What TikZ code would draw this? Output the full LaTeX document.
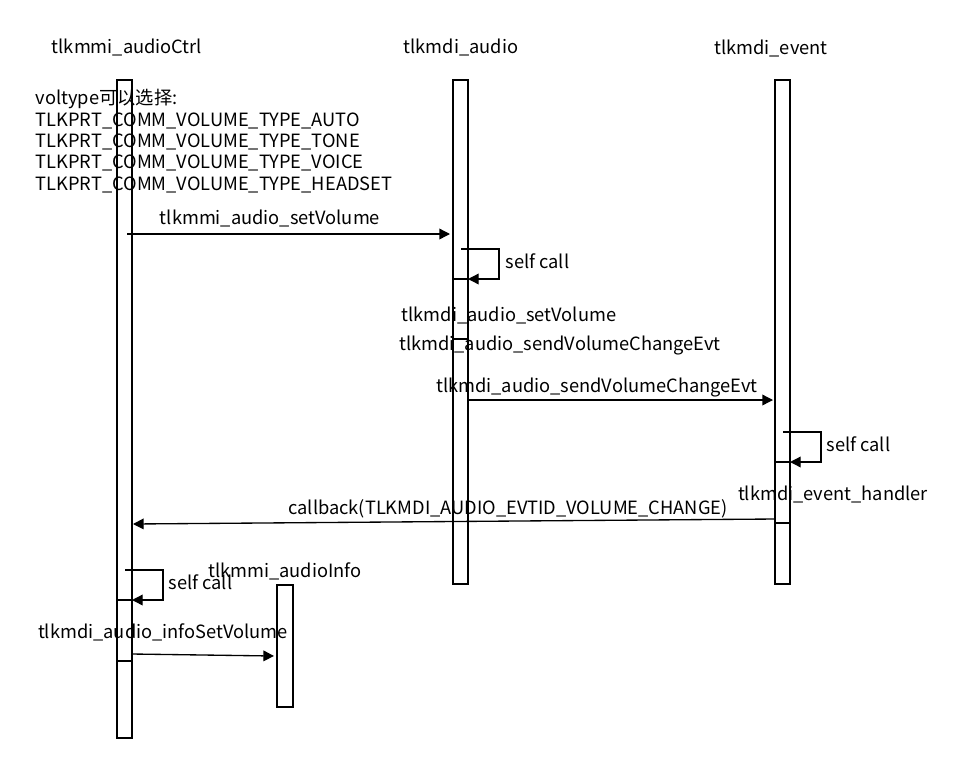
\documentclass[tikz,border=0pt]{standalone}
\usepackage{fontspec}
\setmainfont{Noto Sans CJK SC}
\newfontfamily\cjk{Noto Sans CJK SC}
\usetikzlibrary{arrows.meta}
\tikzset{
	bar/.style={draw, line width=1pt, fill=white},
	msg/.style={line width=1pt, -{Triangle[length=8pt,width=8pt]}},
	lbl/.style={inner sep=0pt, font=\fontsize{13.7pt}{16pt}\selectfont},
}
\begin{document}
\begin{tikzpicture}[x=0.75pt,y=-0.75pt,line width=1pt]
\useasboundingbox (0,0) rectangle (962,782);
% lifelines
\draw[bar] (117,80) rectangle (132,738);
\draw[bar] (453,80) rectangle (468,584);
\draw[bar] (775,80) rectangle (790,584);
\draw[bar] (277,585) rectangle (293,707);
\draw (453,279) -- (468,279) (453,339) -- (468,339);
\draw (775,462) -- (790,462) (775,523) -- (790,523);
\draw (117,600) -- (132,600) (117,661) -- (132,661);
\node[lbl] (ctrl) at (127,48) {tlkmmi\_audioCtrl};
\node[lbl] (audio) at (461,48) {tlkmdi\_audio};
\node[lbl] (event) at (771,49) {tlkmdi\_event};
\node[lbl] (info) at (285,571) {tlkmmi\_audioInfo};
% note
\node[lbl, anchor=north west, align=left, font=\fontsize{13.7pt}{16pt}\selectfont] (note) at (35,89)
	{voltype{\cjk 可以选择}:\\TLKPRT\_COMM\_VOLUME\_TYPE\_AUTO\\TLKPRT\_COMM\_VOLUME\_TYPE\_TONE\\
	TLKPRT\_COMM\_VOLUME\_TYPE\_VOICE\\TLKPRT\_COMM\_VOLUME\_TYPE\_HEADSET};
% messages
\coordinate (m1a) at (127,234);
\coordinate (m1b) at (450,234);
\draw[msg] (m1a) -- (m1b);
\node[lbl] (m1) at (270,219) {tlkmmi\_audio\_setVolume};
\draw[msg] (461,249) -- (499,249) -- (499,279) -- (468,279);
\node[lbl, anchor=west] (s1) at (505,261) {self call};
\node[lbl] (t1) at (509,316) {tlkmdi\_audio\_setVolume};
\node[lbl] (t2) at (560,346) {tlkmdi\_audio\_sendVolumeChangeEvt};
\coordinate (m2a) at (468,400);
\coordinate (m2b) at (773,400);
\draw[msg] (m2a) -- (m2b);
\node[lbl] (m2) at (597,388) {tlkmdi\_audio\_sendVolumeChangeEvt};
\draw[msg] (783,432) -- (821,432) -- (821,462) -- (790,462);
\node[lbl, anchor=west] (s2) at (826,444) {self call};
\node[lbl] (t3) at (833,494) {tlkmdi\_event\_handler};
\coordinate (m3a) at (775,519);
\coordinate (m3b) at (133,524);
\draw[msg] (m3a) -- (m3b);
\node[lbl] (m3) at (508,509) {callback(TLKMDI\_AUDIO\_EVTID\_VOLUME\_CHANGE)};
\draw[msg] (125,570) -- (163,570) -- (163,600) -- (132,600);
\node[lbl, anchor=west] (s3) at (168,582) {self call};
\node[lbl] (t4) at (163,632) {tlkmdi\_audio\_infoSetVolume};
\coordinate (m4a) at (132,654);
\coordinate (m4b) at (274,656);
\draw[msg] (m4a) -- (m4b);
\end{tikzpicture}
\end{document}
